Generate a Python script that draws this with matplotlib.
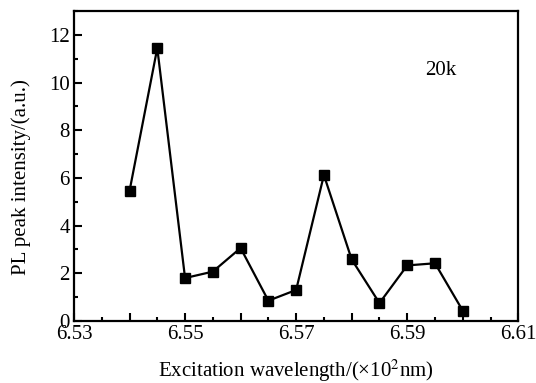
import numpy as np
import matplotlib
matplotlib.use('Agg')
import matplotlib.pyplot as plt
from matplotlib.ticker import MultipleLocator, FuncFormatter

plt.rcParams['font.family'] = ['Liberation Serif', 'DejaVu Serif']
plt.rcParams['mathtext.fontset'] = 'stix'

# excitation wavelength (x100 nm) and PL peak intensity (a.u.)
wavelength = [6.540, 6.545, 6.550, 6.555, 6.560, 6.565, 6.570,
              6.575, 6.580, 6.585, 6.590, 6.595, 6.600]
intensity = [5.45, 11.45, 1.8, 2.07, 3.06, 0.85, 1.3,
             6.12, 2.58, 0.75, 2.33, 2.42, 0.43]

fig = plt.figure(figsize=(5.36, 3.83), dpi=100)
ax = fig.add_axes([0.138, 0.162, 0.829, 0.809])

ax.plot(wavelength, intensity, '-s', color='black', lw=1.6,
        markersize=6.5)

ax.set_xlim(6.53, 6.61)
ax.set_ylim(0, 13)
ax.xaxis.set_major_locator(MultipleLocator(0.01))
ax.xaxis.set_minor_locator(MultipleLocator(0.005))
ax.yaxis.set_major_locator(MultipleLocator(2))
ax.yaxis.set_minor_locator(MultipleLocator(1))


def xfmt(v, pos):
    # label only 6.53, 6.55, ...
    k = int(round(v * 100))
    return '%.2f' % v if k % 2 == 1 else ''


ax.xaxis.set_major_formatter(FuncFormatter(xfmt))

ax.tick_params(which='both', direction='in', labelsize=15, width=1.5,
               top=False, right=False)
ax.tick_params(which='major', length=6, pad=3)
ax.tick_params(which='minor', length=3)
for s in ax.spines.values():
    s.set_linewidth(1.6)

ax.set_xlabel('Excitation wavelength/(×10$^2$nm)', fontsize=15, labelpad=10)
ax.set_ylabel('PL peak intensity/(a.u.)', fontsize=15)
ax.yaxis.set_label_coords(-0.097, 0.465)
ax.text(6.5932, 10.3, '20k', fontsize=15)

fig.savefig('out.png', dpi=100)
